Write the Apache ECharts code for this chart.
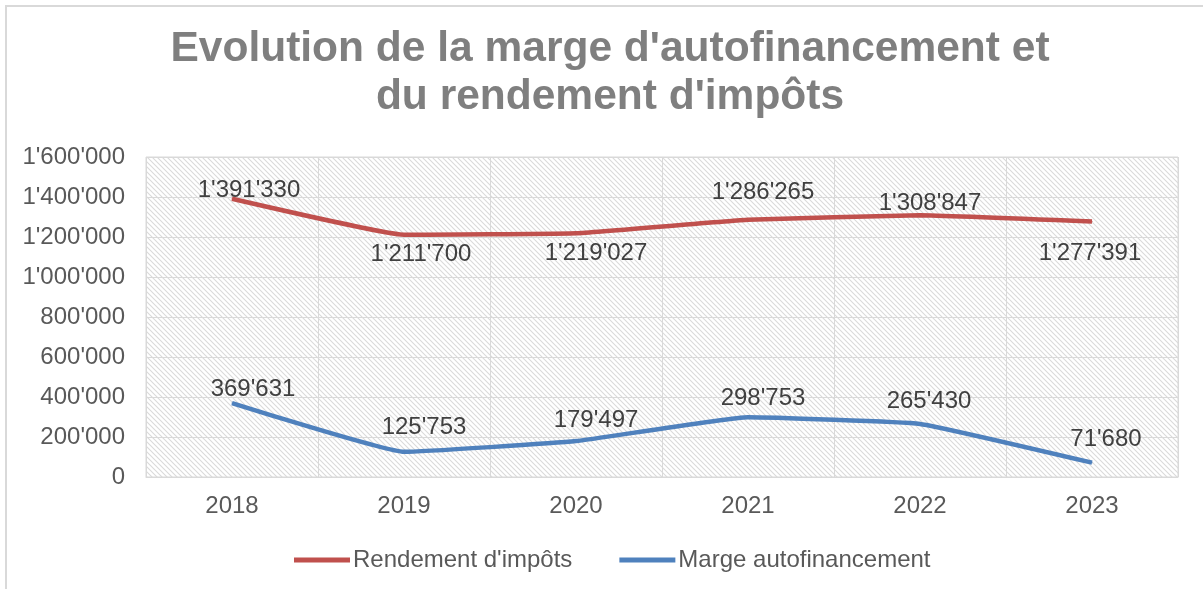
<!DOCTYPE html>
<html>
<head>
<meta charset="utf-8">
<script src="https://cdn.jsdelivr.net/npm/echarts@6/dist/echarts.min.js"></script>
<style>
  html, body { margin: 0; padding: 0; background: #fff; }
  #chart { width: 1203px; height: 589px; }
</style>
</head>
<body>
<div id="chart"></div>
<script>
var years = ['2018', '2019', '2020', '2021', '2022', '2023'];
var rendementImpots = [1391330, 1211700, 1219027, 1286265, 1308847, 1277391];
var margeAutofin = [369631, 125753, 179497, 298753, 265430, 71680];
var yTicks = { min: 0, max: 1600000, interval: 200000 };
var titleText = "Evolution de la marge d'autofinancement et\ndu rendement d'impôts";

// where each data label sits relative to its point (as in the Excel chart)
var redLabelOffsets = [[17, -8], [17, 20], [20, 20], [15, -27], [10, -12], [-2, 32]];
var blueLabelOffsets = [[21, -14], [20, -24], [20, -21], [15, -19], [9, -23], [14, -23]];

function fmt(v) {
    return String(v).replace(/\B(?=(\d{3})+(?!\d))/g, "'");
}

// diagonal hatch for the plot area
function hatch() {
    var c = document.createElement('canvas');
    c.width = 5; c.height = 5;
    var ctx = c.getContext('2d');
    ctx.fillStyle = '#ffffff';
    ctx.fillRect(0, 0, 5, 5);
    ctx.strokeStyle = '#dadada';
    ctx.lineWidth = 1.1;
    ctx.beginPath();
    ctx.moveTo(-1, -1); ctx.lineTo(6, 6);
    ctx.moveTo(-1, 4); ctx.lineTo(1, 6);
    ctx.moveTo(4, -1); ctx.lineTo(6, 1);
    ctx.stroke();
    return c;
}

function withLabels(values, offsets) {
    return values.map(function (v, i) {
        return { value: v, label: { offset: offsets[i] } };
    });
}

var font = 'Liberation Sans, Arial, sans-serif';
var myChart = echarts.init(document.getElementById('chart'));
var option = {
    animation: false,
    backgroundColor: '#fff',
    graphic: [{
        type: 'rect',
        shape: { x: 6, y: 6, width: 1260, height: 660 },
        style: { fill: 'none', stroke: '#d9d9d9', lineWidth: 2 },
        silent: true
    }, {
        // title, centred a little right of the page centre like the original
        type: 'text',
        x: 610,
        y: 25,
        silent: true,
        style: {
            text: titleText,
            align: 'center',
            verticalAlign: 'top',
            fill: '#7f7f7f',
            fontFamily: font,
            fontSize: 42.5,
            fontWeight: 'bold',
            lineHeight: 48
        }
    }],
    legend: {
        left: 289,
        top: 543,
        icon: 'rect',
        itemWidth: 56,
        itemHeight: 5,
        itemGap: 47,
        textStyle: { color: '#595959', fontFamily: font, fontSize: 24, padding: [0, 0, 0, -2] },
        data: ["Rendement d'impôts", 'Marge autofinancement']
    },
    grid: {
        left: 146, right: 25, top: 157, bottom: 112,
        show: true,
        backgroundColor: { image: hatch(), repeat: 'repeat' },
        borderColor: '#d9d9d9',
        borderWidth: 1
    },
    xAxis: {
        type: 'category',
        data: years,
        boundaryGap: true,
        axisLine: { lineStyle: { color: '#d9d9d9', width: 1 } },
        axisTick: { show: false },
        splitLine: { show: true, lineStyle: { color: '#d9d9d9' } },
        axisLabel: { color: '#595959', fontFamily: font, fontSize: 24, margin: 17 }
    },
    yAxis: {
        type: 'value',
        min: yTicks.min,
        max: yTicks.max,
        interval: yTicks.interval,
        axisLine: { show: false },
        axisTick: { show: false },
        splitLine: { lineStyle: { color: '#d9d9d9' } },
        axisLabel: {
            color: '#595959', fontFamily: font, fontSize: 24, margin: 21,
            formatter: fmt
        }
    },
    series: [
        {
            name: "Rendement d'impôts",
            type: 'line',
            smooth: 0.1,
            symbol: 'circle',
            symbolSize: 1,
            color: '#c0504d',
            lineStyle: { width: 4.5, color: '#c0504d' },
            label: {
                show: true, position: 'inside',
                color: '#404040', fontFamily: font, fontSize: 24,
                formatter: function (p) { return fmt(p.value); }
            },
            data: withLabels(rendementImpots, redLabelOffsets)
        },
        {
            name: 'Marge autofinancement',
            type: 'line',
            smooth: 0.1,
            symbol: 'circle',
            symbolSize: 1,
            color: '#4f81bd',
            lineStyle: { width: 4.5, color: '#4f81bd' },
            label: {
                show: true, position: 'inside',
                color: '#404040', fontFamily: font, fontSize: 24,
                formatter: function (p) { return fmt(p.value); }
            },
            data: withLabels(margeAutofin, blueLabelOffsets)
        }
    ]
};
myChart.setOption(option);
</script>
</body>
</html>
